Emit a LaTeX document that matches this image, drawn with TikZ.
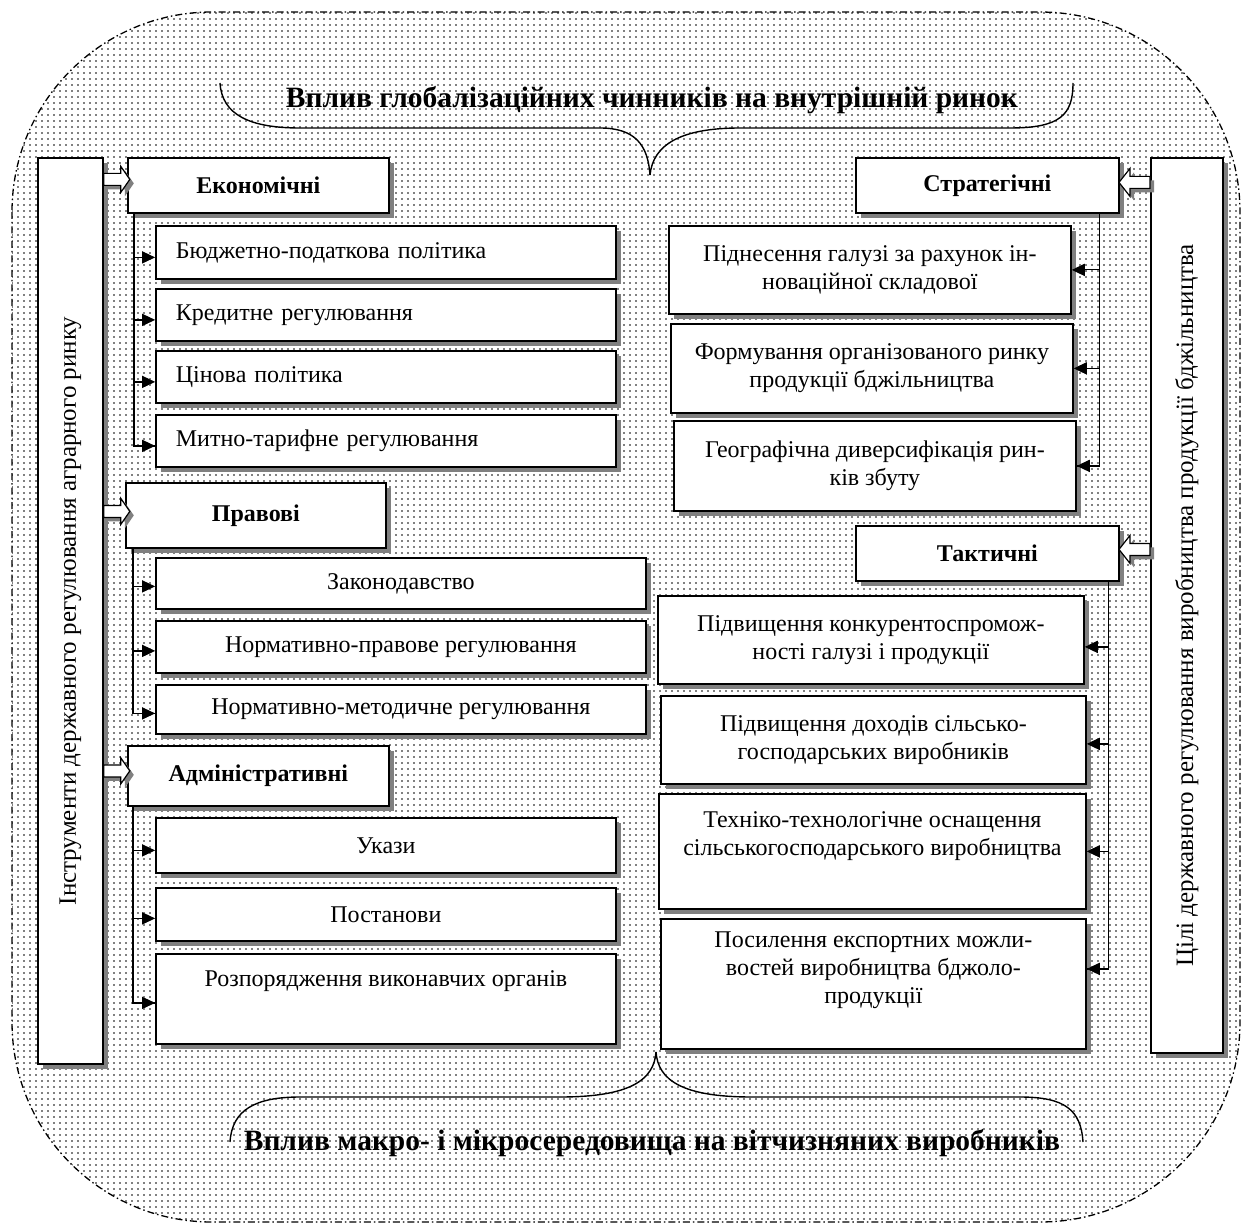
\documentclass[tikz,border=0pt]{standalone}
\usepackage{fontspec}
\setmainfont{Liberation Serif}
\usetikzlibrary{shadows,patterns.meta,arrows.meta,calc}
\begin{document}
\begin{tikzpicture}[x=1pt,y=-1pt,
  every node/.style={font=\fontsize{24}{28}\selectfont},
  box/.style={draw, line width=1.8pt, fill=white, anchor=north west, align=center, inner sep=2pt,
     drop shadow={shadow xshift=5pt, shadow yshift=-5pt, fill=black!50, opacity=1}},
  cat/.style={box, font=\bfseries\fontsize{24}{28}\selectfont},
  lbox/.style={box, align=left, text width=420pt, inner xsep=20pt, minimum width=460},
  conn/.style={line width=1.2pt},
  arr/.style={conn, -{Triangle[length=13pt,width=12pt]}},
  brace/.style={line width=1.4pt},
  ttl/.style={font=\bfseries\fontsize{29.5}{32}\selectfont},
  vtxt/.style={rotate=90, font=\fontsize{25}{28}\selectfont},
  harR/.pic={
    \fill[black!50] (4,-2) -- (21,-2) -- (21,-9) -- (30,4) -- (21,17) -- (21,10) -- (4,10) -- cycle;
    \draw[line width=1.2pt, fill=white] (0,-6) -- (17,-6) -- (17,-13) -- (26,0) -- (17,13) -- (17,6) -- (0,6) -- cycle;
  },
  harL/.pic={
    \fill[black!50] (4,-2) -- (-16,-2) -- (-16,-10) -- (-27,4) -- (-16,18) -- (-16,10) -- (4,10) -- cycle;
    \draw[line width=1.2pt, fill=white] (0,-6) -- (-20,-6) -- (-20,-14) -- (-31,0) -- (-20,14) -- (-20,6) -- (0,6) -- cycle;
  }
]
\useasboundingbox (0,0) rectangle (1243,1225);

% background
\draw[dash pattern=on 7pt off 3pt on 1.5pt off 3pt, line width=1.3pt,
  pattern={Dots[distance=6pt,radius=0.9pt]}, pattern color=black,
  rounded corners=200pt] (12,12) rectangle (1240,1222);

% braces
\draw[brace] (220,83) .. controls (222,115) and (250,128) .. (300,128) -- (600,128)
  .. controls (635,128) and (648,145) .. (650,175);
\draw[brace] (650,175) .. controls (653,145) and (680,128) .. (740,128) -- (1010,128)
  .. controls (1060,128) and (1073,115) .. (1073,83);
\draw[brace] (230,1142) .. controls (232,1110) and (255,1097) .. (300,1097) -- (560,1097)
  .. controls (630,1097) and (654,1080) .. (656,1052);
\draw[brace] (656,1052) .. controls (658,1080) and (682,1097) .. (752,1097) -- (1020,1097)
  .. controls (1065,1097) and (1081,1110) .. (1083,1142);

\node[ttl] (toptitle) at (652,100) {Вплив глобалізаційних чинників на внутрішній ринок};
\node[ttl] (bottitle) at (652,1143) {Вплив макро- і мікросередовища на вітчизняних виробників};

% side bars
\node[box, minimum width=65, minimum height=906] (L) at (37,157) {};
\node[box, minimum width=72, minimum height=895] (R) at (1150,157) {};
\node[vtxt] (Ltxt) at (L.center) {Інструменти державного регулювання аграрного ринку};
\node[vtxt] (Rtxt) at (R.center) {Цілі державного регулювання виробництва продукції бджільництва};

% left column
\node[cat, minimum width=261, minimum height=55] (eco) at (127,157) {Економічні};
\node[lbox, minimum height=53] (e1) at (155,225) {Бюджетно-податкова політика};
\node[lbox, minimum height=52] (e2) at (155,288) {Кредитне регулювання};
\node[lbox, minimum height=52] (e3) at (155,350) {Цінова політика};
\node[lbox, minimum height=52] (e4) at (155,414) {Митно-тарифне регулювання};

\node[cat, minimum width=260, minimum height=65] (prav) at (125,482) {Правові};
\node[box, minimum width=490, minimum height=51] (p1) at (155,557) {Законодавство};
\node[box, minimum width=490, minimum height=52] (p2) at (155,620) {Нормативно-правове регулювання};
\node[box, minimum width=490, minimum height=49] (p3) at (155,684) {Нормативно-методичне регулювання};

\node[cat, minimum width=261, minimum height=60] (adm) at (127,745) {Адміністративні};
\node[box, minimum width=460, minimum height=55] (a1) at (155,817) {Укази};
\node[box, minimum width=460, minimum height=53] (a2) at (155,887) {Постанови};
\node[box, minimum width=460, minimum height=90] (a3) at (155,953) {};
\node (a3txt) at ($(a3.north)+(0,28)$) {Розпорядження виконавчих органів};

% right column
\node[cat, minimum width=263, minimum height=55] (strat) at (855,157) {Стратегічні};
\node[box, minimum width=402, minimum height=88] (s1) at (668,225) {Піднесення галузі за рахунок ін-\\новаційної складової};
\node[box, minimum width=402, minimum height=89] (s2) at (670,323) {Формування організованого ринку\\продукції бджільництва};
\node[box, minimum width=402, minimum height=90] (s3) at (673,420) {Географічна диверсифікація рин-\\ків збуту};

\node[cat, minimum width=263, minimum height=55] (takt) at (855,525) {Тактичні};
\node[box, minimum width=426, minimum height=88] (t1) at (657,595) {Підвищення конкурентоспромож-\\ності галузі і продукції};
\node[box, minimum width=425, minimum height=88] (t2) at (660,695) {Підвищення доходів сільсько-\\господарських виробників};
\node[box, minimum width=427, minimum height=115] (t3) at (658,793) {};
\node[align=center] (t3txt) at ($(t3.north)+(0,43)$) {Техніко-технологічне оснащення\\сільськогосподарського виробництва};
\node[box, minimum width=425, minimum height=130] (t4) at (660,918) {};
\node[align=center] (t4txt) at ($(t4.north)+(0,52)$) {Посилення експортних можли-\\востей виробництва бджоло-\\продукції};

% connector anchor points
\coordinate (eT) at ($(eco.south west)+(7,0)$);
\coordinate (e1a) at ($(e1.west)+(0,5)$);
\coordinate (e2a) at ($(e2.west)+(0,5)$);
\coordinate (e3a) at ($(e3.west)+(0,5)$);
\coordinate (e4a) at ($(e4.west)+(0,5)$);
\coordinate (pT) at ($(prav.south west)+(8,0)$);
\coordinate (p1a) at ($(p1.west)+(0,3)$);
\coordinate (p2a) at ($(p2.west)+(0,4)$);
\coordinate (p3a) at ($(p3.west)+(0,4)$);
\coordinate (aT) at ($(adm.south west)+(6,0)$);
\coordinate (a1a) at ($(a1.west)+(0,5)$);
\coordinate (a2a) at ($(a2.west)+(0,4)$);
\coordinate (a3a) at ($(a3.west)+(0,4)$);
\coordinate (sT) at ($(strat.south east)+(-20,0)$);
\coordinate (s1a) at ($(s1.east)+(0,0)$);
\coordinate (s2a) at ($(s2.east)+(0,0)$);
\coordinate (s3a) at ($(s3.east)+(0,0)$);
\coordinate (tT) at ($(takt.south east)+(-11,0)$);
\coordinate (t1a) at ($(t1.east)+(0,7)$);
\coordinate (t2a) at ($(t2.east)+(0,4)$);
\coordinate (t3a) at ($(t3.east)+(0,0)$);
\coordinate (t4a) at ($(t4.east)+(0,-15)$);

\newcommand\drawtrees{%
  \draw[conn] (eT) |- (e4a);
  \draw[arr] (eT |- e1a) -- (e1a);
  \draw[arr] (eT |- e2a) -- (e2a);
  \draw[arr] (eT |- e3a) -- (e3a);
  \draw[arr] (eT |- e4a) -- (e4a);
  \draw[conn] (pT) |- (p3a);
  \draw[arr] (pT |- p1a) -- (p1a);
  \draw[arr] (pT |- p2a) -- (p2a);
  \draw[arr] (pT |- p3a) -- (p3a);
  \draw[conn] (aT) |- (a3a);
  \draw[arr] (aT |- a1a) -- (a1a);
  \draw[arr] (aT |- a2a) -- (a2a);
  \draw[arr] (aT |- a3a) -- (a3a);
  \draw[conn] (sT) |- (s3a);
  \draw[arr] (sT |- s1a) -- (s1a);
  \draw[arr] (sT |- s2a) -- (s2a);
  \draw[arr] (sT |- s3a) -- (s3a);
  \draw[conn] (tT) |- (t4a);
  \draw[arr] (tT |- t1a) -- (t1a);
  \draw[arr] (tT |- t2a) -- (t2a);
  \draw[arr] (tT |- t3a) -- (t3a);
  \draw[arr] (tT |- t4a) -- (t4a);
}
\begin{scope}[shift={(5,4)}, black!50]
  \drawtrees
\end{scope}
\drawtrees

% hollow arrows
\pic at ($(L.east |- eco.west)+(0,-6)$) {harR};
\pic at ($(L.east |- prav.west)+(0,-4)$) {harR};
\pic at ($(L.east |- adm.west)+(0,-5)$) {harR};
\pic at ($(R.west |- strat.east)+(0,-3)$) {harL};
\pic at ($(R.west |- takt.east)+(0,-4)$) {harL};
\end{tikzpicture}
\end{document}
